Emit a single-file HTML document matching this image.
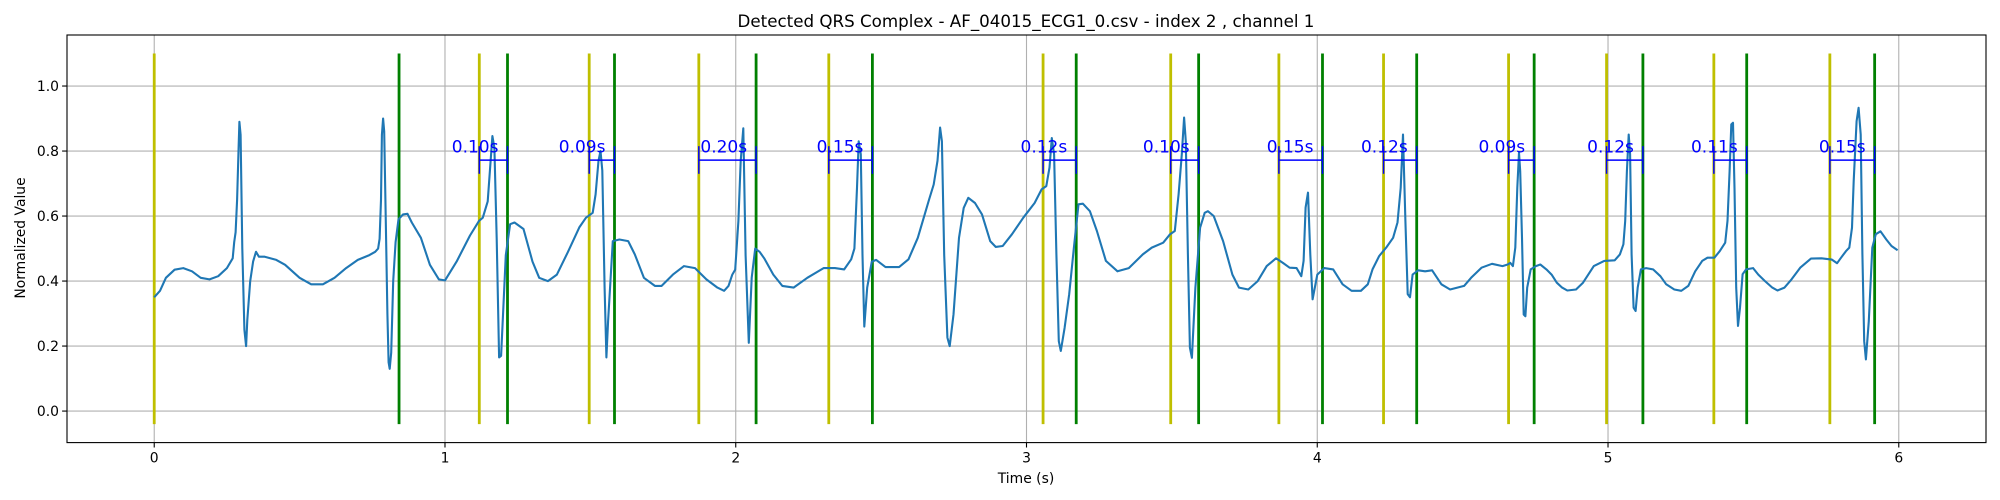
<!DOCTYPE html>
<html><head><meta charset="utf-8"><style>
html,body{margin:0;padding:0;background:#fff;}
svg{display:block;font-family:"DejaVu Sans","Liberation Sans",sans-serif;}
</style></head><body>
<svg id="chart" width="2000" height="500" viewBox="0 0 2000 500" xmlns="http://www.w3.org/2000/svg">
<rect x="0" y="0" width="2000" height="500" fill="#fff"/>
<text x="1026" y="27" font-size="16.7" text-anchor="middle">Detected QRS Complex - AF_04015_ECG1_0.csv - index 2 , channel 1</text>
<g id="grid"></g>
<g id="marks"></g>
<g id="ecg"></g>
<g id="annot"></g>
<rect x="67" y="35" width="1919" height="407.6" fill="none" stroke="#000" stroke-width="1.1"/>
<g id="ticks"></g>
<text x="1026" y="483" font-size="13.9" text-anchor="middle">Time (s)</text>
<text transform="translate(25,238) rotate(-90)" font-size="13.9" text-anchor="middle">Normalized Value</text>
</svg>
<script>
const xTicks = [0,1,2,3,4,5,6];
const yTicks = [0.0,0.2,0.4,0.6,0.8,1.0];
const onsets = [0,1.118,1.496,1.873,2.320,3.057,3.496,3.868,4.228,4.658,4.995,5.364,5.763];
const offsets = [0.842,1.215,1.583,2.070,2.470,3.171,3.592,4.018,4.342,4.746,5.120,5.477,5.917];
const durationLabels = ["","0.10s","0.09s","0.20s","0.15s","0.12s","0.10s","0.15s","0.12s","0.09s","0.12s","0.11s","0.15s"];
const sigT = [0,.02,.04,.07,.10,.13,.16,.19,.22,.25,.27,.275,.28,.285,.29,.293,.297,.303,.31,.316,.32,.33,.34,.35,.36,.38,.42,.45,.50,.54,.58,.62,.66,.70,.74,.76,.77,.775,.78,.783,.787,.791,.796,.802,.806,.81,.815,.822,.83,.84,.856,.871,.886,.917,.948,.979,1.0,1.04,1.086,1.117,1.13,1.147,1.163,1.17,1.178,1.186,1.193,1.209,1.224,1.239,1.27,1.301,1.324,1.354,1.385,1.423,1.462,1.485,1.508,1.518,1.528,1.535,1.541,1.549,1.555,1.561,1.577,1.6,1.63,1.653,1.684,1.722,1.745,1.784,1.822,1.86,1.899,1.937,1.96,1.975,1.988,1.998,2.009,2.017,2.026,2.034,2.045,2.055,2.067,2.082,2.098,2.129,2.16,2.199,2.246,2.302,2.341,2.373,2.397,2.408,2.417,2.423,2.43,2.436,2.442,2.452,2.468,2.483,2.515,2.562,2.594,2.626,2.65,2.665,2.681,2.694,2.703,2.709,2.717,2.728,2.736,2.749,2.768,2.784,2.8,2.823,2.847,2.875,2.894,2.918,2.95,2.989,3.028,3.052,3.068,3.079,3.087,3.095,3.103,3.111,3.118,3.131,3.147,3.163,3.179,3.194,3.218,3.242,3.273,3.313,3.352,3.4,3.431,3.47,3.494,3.51,3.523,3.534,3.542,3.548,3.555,3.562,3.569,3.581,3.597,3.613,3.624,3.644,3.676,3.708,3.731,3.763,3.795,3.826,3.858,3.882,3.905,3.929,3.945,3.953,3.96,3.968,3.976,3.984,4.0,4.024,4.055,4.087,4.118,4.15,4.174,4.19,4.213,4.237,4.261,4.276,4.287,4.295,4.303,4.311,4.319,4.328,4.347,4.371,4.395,4.427,4.457,4.505,4.529,4.565,4.601,4.637,4.655,4.664,4.673,4.681,4.688,4.694,4.698,4.704,4.71,4.716,4.722,4.734,4.752,4.767,4.788,4.806,4.824,4.842,4.86,4.89,4.914,4.951,4.987,5.023,5.041,5.053,5.059,5.065,5.071,5.076,5.081,5.088,5.095,5.102,5.113,5.131,5.155,5.18,5.2,5.228,5.252,5.276,5.3,5.324,5.342,5.366,5.384,5.403,5.411,5.418,5.424,5.43,5.435,5.441,5.447,5.454,5.463,5.475,5.499,5.517,5.54,5.565,5.583,5.607,5.631,5.661,5.698,5.734,5.77,5.788,5.8,5.818,5.83,5.839,5.845,5.855,5.862,5.869,5.875,5.881,5.887,5.897,5.909,5.921,5.937,5.957,5.975,5.996];
const sigV = [.35,.37,.41,.435,.44,.43,.41,.405,.415,.44,.47,.52,.55,.65,.80,.89,.85,.50,.25,.20,.28,.40,.46,.49,.475,.475,.465,.45,.41,.39,.39,.41,.44,.465,.48,.49,.50,.53,.65,.85,.90,.86,.60,.30,.15,.13,.18,.40,.52,.59,.605,.607,.58,.533,.45,.405,.402,.46,.54,.585,.595,.645,.846,.81,.53,.165,.17,.48,.575,.58,.56,.46,.41,.40,.42,.49,.565,.595,.61,.667,.77,.80,.74,.38,.165,.277,.523,.528,.523,.482,.41,.385,.385,.42,.446,.44,.405,.38,.37,.385,.42,.435,.585,.77,.87,.48,.21,.41,.5,.49,.47,.42,.385,.38,.41,.44,.44,.436,.467,.50,.687,.83,.79,.48,.26,.38,.46,.465,.443,.443,.467,.533,.605,.651,.697,.77,.872,.83,.48,.226,.20,.297,.533,.625,.656,.64,.605,.523,.505,.508,.544,.595,.64,.682,.692,.749,.84,.79,.482,.215,.185,.256,.36,.503,.636,.638,.615,.554,.462,.43,.44,.482,.503,.518,.544,.554,.667,.79,.903,.83,.482,.195,.164,.38,.564,.61,.615,.6,.523,.42,.38,.374,.4,.446,.47,.456,.441,.44,.415,.462,.626,.672,.482,.344,.42,.44,.436,.39,.37,.37,.39,.436,.477,.503,.533,.58,.687,.851,.585,.36,.35,.42,.433,.43,.433,.39,.374,.385,.41,.441,.453,.446,.451,.456,.446,.503,.687,.795,.738,.533,.297,.292,.38,.436,.446,.451,.436,.42,.395,.38,.371,.374,.395,.446,.462,.464,.482,.513,.585,.738,.851,.79,.482,.318,.308,.38,.436,.44,.436,.415,.39,.374,.37,.385,.43,.462,.472,.472,.492,.518,.585,.738,.882,.887,.687,.38,.262,.318,.421,.436,.44,.42,.4,.38,.371,.38,.405,.441,.469,.47,.466,.455,.47,.492,.503,.564,.708,.892,.933,.851,.482,.215,.159,.277,.503,.544,.553,.528,.508,.495];

const NS = "http://www.w3.org/2000/svg";
const L=67, R=1986, T=35, B=442.6, XMIN=-0.3, XMAX=6.3, YMIN=-0.097, YMAX=1.157;
function sx(t){return L+(t-XMIN)/(XMAX-XMIN)*(R-L);}
function sy(v){return B-(v-YMIN)/(YMAX-YMIN)*(B-T);}
function mk(tag, attrs, parent){const e=document.createElementNS(NS,tag);for(const k in attrs)e.setAttribute(k,attrs[k]);parent.appendChild(e);return e;}
const grid=document.getElementById('grid'), ticks=document.getElementById('ticks'), marks=document.getElementById('marks'), ecg=document.getElementById('ecg'), annot=document.getElementById('annot');

xTicks.forEach(t=>{
  const g=mk('line',{x1:sx(t),x2:sx(t),y1:T,y2:B,stroke:'#b0b0b0','stroke-width':1.1},grid);
  
  
  const tk=mk('line',{x1:sx(t),x2:sx(t),y1:B,y2:B+4.9,stroke:'#000','stroke-width':1.1},ticks);
  
  
  const tx=mk('text',{x:sx(t),y:B+20,'font-size':13.9,'text-anchor':'middle'},ticks);
  tx.textContent=String(t);
  
  
});
yTicks.forEach(v=>{
  const g=mk('line',{x1:L,x2:R,y1:sy(v),y2:sy(v),stroke:'#b0b0b0','stroke-width':1.1},grid);
  
  
  const tk=mk('line',{x1:L-4.9,x2:L,y1:sy(v),y2:sy(v),stroke:'#000','stroke-width':1.1},ticks);
  
  
  const tx=mk('text',{x:L-8,y:sy(v)+5,'font-size':13.9,'text-anchor':'end'},ticks);
  tx.textContent=v.toFixed(1);
  
  
});
onsets.forEach(t=>{
  const l=mk('line',{x1:sx(t),x2:sx(t),y1:sy(1.1),y2:sy(-0.04),stroke:'#bfbf00','stroke-width':2.8},marks);
  
  
});
offsets.forEach(t=>{
  const l=mk('line',{x1:sx(t),x2:sx(t),y1:sy(1.1),y2:sy(-0.04),stroke:'#008000','stroke-width':2.8},marks);
  
  
});
let d='';
sigT.forEach((t,i)=>{d+=(i?'L':'M')+sx(t).toFixed(1)+','+sy(sigV[i]).toFixed(1);});
const p=mk('path',{d:d,fill:'none',stroke:'#1f77b4','stroke-width':2.1,'stroke-linejoin':'round'},ecg);


for(let i=1;i<onsets.length;i++){
  const a=sx(onsets[i]), b=sx(offsets[i]);
  const h=mk('line',{x1:a,x2:b,y1:sy(0.772),y2:sy(0.772),stroke:'#0000ff','stroke-width':1.5},annot);
  
  
  [a,b].forEach(x=>{
    const v=mk('line',{x1:x,x2:x,y1:sy(0.815),y2:sy(0.73),stroke:'#0000ff','stroke-width':1.5},annot);
    
    
  });
  const tx=mk('text',{x:b-9,y:sy(0.795),'font-size':17,fill:'#0000ff','text-anchor':'end'},annot);
  tx.textContent=durationLabels[i];
  
  
}
</script>
</body></html>
